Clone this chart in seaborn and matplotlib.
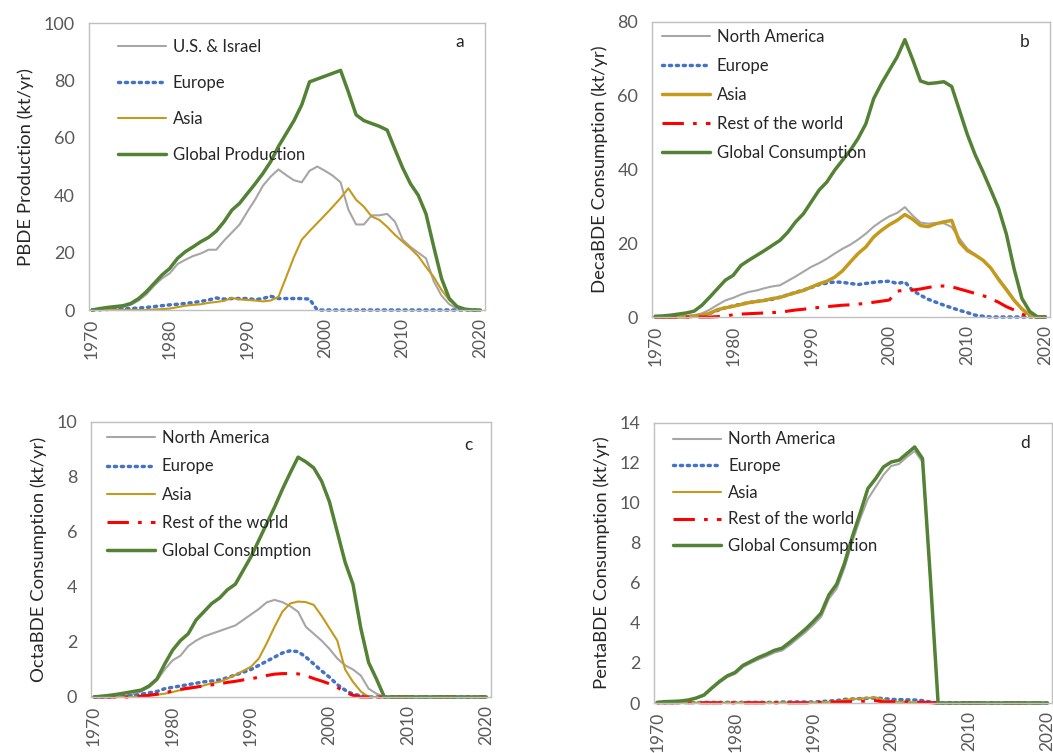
import matplotlib
matplotlib.use("Agg")
import matplotlib.pyplot as plt
import seaborn as sns
import pandas as pd

# ---------------- data ----------------
years = list(range(1970, 2021))
x_ticks = [1970, 1980, 1990, 2000, 2010, 2020]

# Panel a: PBDE production (kt/yr)
a_us = [0.0, 0.3, 0.6, 0.8, 1.0, 1.8, 3.3, 5.5, 8.5, 11.0,
        12.8, 16.0, 17.5, 18.8, 19.7, 21.0, 21.0, 24.2, 27.0, 29.8,
        34.3, 38.5, 43.3, 46.5, 49.0, 47.0, 45.2, 44.5, 48.5, 50.0,
        48.5, 46.8, 44.5, 35.0, 29.8, 29.8, 33.0, 33.0, 33.5, 30.8,
        24.5, 22.0, 20.0, 18.0, 10.0, 5.0, 2.0, 0.5, 0.1, 0.0,
        0.0]
a_eu = [0.0, 0.1, 0.2, 0.3, 0.4, 0.5, 0.7, 0.9, 1.2, 1.5,
        1.8, 2.0, 2.3, 2.6, 3.0, 3.5, 4.2, 3.8, 4.0, 4.0,
        4.0, 3.6, 4.0, 4.8, 4.0, 4.0, 4.0, 4.0, 3.8, 0.0,
        0.0, 0.0, 0.0, 0.0, 0.0, 0.0, 0.0, 0.0, 0.0, 0.0,
        0.0, 0.0, 0.0, 0.0, 0.0, 0.0, 0.0, 0.0, 0.0, 0.0,
        0.0]
a_asia = [0.0, 0.0, 0.0, 0.0, 0.0, 0.0, 0.0, 0.0, 0.2, 0.3,
          0.5, 1.0, 1.5, 1.8, 2.0, 2.5, 2.8, 3.2, 4.2, 3.7,
          3.5, 3.3, 3.0, 3.3, 4.6, 11.5, 18.5, 24.5, 27.5, 30.3,
          33.1, 36.0, 39.0, 42.4, 38.4, 36.0, 32.6, 31.4, 29.0, 26.2,
          23.8, 21.5, 18.8, 15.0, 11.5, 7.0, 3.5, 1.2, 0.2, 0.0,
          0.0]
a_global = [0.0, 0.5, 0.9, 1.2, 1.5, 2.3, 4.0, 6.4, 9.3, 12.2,
            14.5, 18.0, 20.3, 22.0, 23.8, 25.3, 27.5, 30.8, 34.8, 37.2,
            40.6, 44.0, 47.6, 51.7, 57.0, 61.5, 66.0, 71.5, 79.5, 80.5,
            81.5, 82.5, 83.5, 76.0, 68.0, 66.0, 65.0, 64.0, 62.7, 56.0,
            49.5, 44.0, 40.0, 33.5, 22.0, 11.0, 4.0, 1.2, 0.3, 0.0,
            0.0]

# Panel b: DecaBDE consumption (kt/yr)
b_na = [0.0, 0.0, 0.0, 0.1, 0.2, 0.5, 1.0, 2.0, 3.3, 4.5,
        5.2, 6.1, 6.8, 7.2, 7.8, 8.3, 8.6, 9.8, 11.0, 12.3,
        13.6, 14.6, 15.8, 17.2, 18.5, 19.6, 21.0, 22.6, 24.5, 26.0,
        27.3, 28.2, 29.8, 27.5, 25.6, 25.3, 25.5, 25.4, 24.4, 21.3,
        18.5, 17.0, 15.5, 13.3, 10.5, 7.8, 4.8, 2.0, 0.5, 0.0,
        0.0]
b_eu = [0.0, 0.0, 0.0, 0.0, 0.1, 0.2, 0.4, 1.0, 1.8, 2.5,
        3.0, 3.5, 3.9, 4.2, 4.5, 4.8, 5.4, 6.0, 6.7, 7.3,
        8.0, 8.8, 9.2, 9.5, 9.4, 9.1, 8.8, 9.1, 9.4, 9.6,
        9.7, 9.1, 9.5, 7.2, 5.9, 4.8, 4.0, 3.2, 2.5, 1.8,
        1.2, 0.5, 0.2, 0.0, 0.0, 0.0, 0.0, 0.0, 0.0, 0.0,
        0.0]
b_asia = [0.0, 0.0, 0.0, 0.0, 0.1, 0.2, 0.5, 1.0, 2.0, 2.5,
          2.9, 3.4, 3.9, 4.2, 4.5, 5.0, 5.3, 6.0, 6.6, 7.2,
          8.1, 9.0, 9.7, 10.8, 12.5, 14.9, 17.2, 19.0, 21.7, 23.5,
          25.0, 26.2, 27.8, 26.5, 24.8, 24.5, 25.3, 25.8, 26.2, 20.3,
          18.0, 16.8, 15.4, 13.3, 10.2, 7.4, 4.5, 2.2, 0.5, 0.0,
          0.0]
b_row = [0.0, 0.0, 0.0, 0.0, 0.0, 0.0, 0.0, 0.0, 0.1, 0.3,
         0.6, 0.8, 0.9, 1.0, 1.1, 1.2, 1.3, 1.6, 1.9, 2.1,
         2.4, 2.6, 2.8, 3.0, 3.2, 3.3, 3.5, 3.7, 4.0, 4.3,
         4.6, 7.0, 7.3, 7.3, 7.6, 8.0, 8.4, 8.4, 8.2, 7.6,
         7.0, 6.4, 5.8, 5.0, 4.0, 2.8, 1.9, 0.8, 0.0, 0.0,
         0.0]
b_global = [0.2, 0.3, 0.5, 0.8, 1.1, 1.6, 3.2, 5.4, 7.7, 10.0,
            11.3, 14.0, 15.4, 16.7, 18.0, 19.4, 20.8, 23.0, 25.8, 28.0,
            31.2, 34.4, 36.6, 39.8, 42.5, 45.2, 48.4, 52.4, 59.2, 63.3,
            66.9, 70.5, 75.2, 69.8, 64.0, 63.3, 63.5, 63.8, 62.5, 56.0,
            49.5, 44.0, 39.4, 34.5, 29.5, 22.5, 13.0, 5.0, 1.5, 0.0,
            0.0]

# Panel c: OctaBDE consumption (kt/yr)
c_na = [0.0, 0.0, 0.0, 0.02, 0.05, 0.1, 0.2, 0.35, 0.6, 1.0,
        1.33, 1.5, 1.85, 2.05, 2.2, 2.3, 2.4, 2.5, 2.6, 2.8,
        3.0, 3.2, 3.44, 3.53, 3.45, 3.3, 3.1, 2.55, 2.3, 2.05,
        1.75, 1.4, 1.15, 1.0, 0.78, 0.3, 0.12, 0.0, 0.0, 0.0,
        0.0, 0.0, 0.0, 0.0, 0.0, 0.0, 0.0, 0.0, 0.0, 0.0,
        0.0]
c_eu = [0.0, 0.0, 0.0, 0.02, 0.03, 0.05, 0.1, 0.15, 0.2, 0.3,
        0.35, 0.4, 0.45, 0.5, 0.55, 0.58, 0.62, 0.7, 0.8, 0.9,
        1.0, 1.15, 1.3, 1.45, 1.6, 1.68, 1.65, 1.45, 1.2, 0.95,
        0.72, 0.45, 0.25, 0.1, 0.05, 0.0, 0.0, 0.0, 0.0, 0.0,
        0.0, 0.0, 0.0, 0.0, 0.0, 0.0, 0.0, 0.0, 0.0, 0.0,
        0.0]
c_asia = [0.0, 0.0, 0.0, 0.0, 0.0, 0.0, 0.02, 0.05, 0.08, 0.12,
          0.18, 0.25, 0.3, 0.35, 0.42, 0.5, 0.55, 0.67, 0.8, 0.95,
          1.1, 1.4, 1.95, 2.55, 3.1, 3.4, 3.47, 3.45, 3.35, 2.95,
          2.5, 2.05, 1.0, 0.55, 0.2, 0.0, 0.0, 0.0, 0.0, 0.0,
          0.0, 0.0, 0.0, 0.0, 0.0, 0.0, 0.0, 0.0, 0.0, 0.0,
          0.0]
c_row = [0.0, 0.0, 0.0, 0.0, 0.0, 0.0, 0.03, 0.06, 0.1, 0.15,
         0.22, 0.28, 0.32, 0.36, 0.4, 0.44, 0.48, 0.53, 0.57, 0.62,
         0.66, 0.72, 0.78, 0.83, 0.85, 0.85, 0.84, 0.78, 0.67, 0.58,
         0.48, 0.35, 0.18, 0.06, 0.0, 0.0, 0.0, 0.0, 0.0, 0.0,
         0.0, 0.0, 0.0, 0.0, 0.0, 0.0, 0.0, 0.0, 0.0, 0.0,
         0.0]
c_global = [0.0, 0.03, 0.06, 0.1, 0.15, 0.2, 0.25, 0.4, 0.65, 1.2,
            1.7, 2.05, 2.3, 2.8, 3.1, 3.4, 3.6, 3.9, 4.1, 4.6,
            5.1, 5.7, 6.3, 6.9, 7.55, 8.15, 8.72, 8.55, 8.33, 7.85,
            7.1, 6.0, 4.9, 4.1, 2.5, 1.25, 0.65, 0.0, 0.0, 0.0,
            0.0, 0.0, 0.0, 0.0, 0.0, 0.0, 0.0, 0.0, 0.0, 0.0,
            0.0]

# Panel d: PentaBDE consumption (kt/yr)
d_na = [0.02, 0.05, 0.06, 0.08, 0.12, 0.22, 0.36, 0.7, 1.02, 1.3,
        1.46, 1.8, 2.0, 2.18, 2.34, 2.52, 2.62, 2.9, 3.22, 3.54,
        3.9, 4.3, 5.2, 5.72, 6.75, 8.05, 9.2, 10.2, 10.8, 11.4,
        11.85, 11.95, 12.3, 12.6, 12.05, 6.2, 0.0, 0.0, 0.0, 0.0,
        0.0, 0.0, 0.0, 0.0, 0.0, 0.0, 0.0, 0.0, 0.0, 0.0,
        0.0]
d_eu = [0.02, 0.02, 0.02, 0.02, 0.02, 0.02, 0.03, 0.03, 0.03, 0.03,
        0.03, 0.03, 0.03, 0.03, 0.03, 0.03, 0.05, 0.05, 0.05, 0.05,
        0.05, 0.07, 0.1, 0.12, 0.18, 0.2, 0.22, 0.24, 0.25, 0.22,
        0.18, 0.17, 0.16, 0.15, 0.12, 0.05, 0.0, 0.0, 0.0, 0.0,
        0.0, 0.0, 0.0, 0.0, 0.0, 0.0, 0.0, 0.0, 0.0, 0.0,
        0.0]
d_asia = [0.02, 0.02, 0.02, 0.02, 0.02, 0.02, 0.02, 0.02, 0.02, 0.02,
          0.02, 0.02, 0.02, 0.02, 0.02, 0.02, 0.02, 0.02, 0.02, 0.02,
          0.03, 0.04, 0.06, 0.08, 0.15, 0.2, 0.22, 0.25, 0.28, 0.15,
          0.08, 0.06, 0.05, 0.04, 0.02, 0.0, 0.0, 0.0, 0.0, 0.0,
          0.0, 0.0, 0.0, 0.0, 0.0, 0.0, 0.0, 0.0, 0.0, 0.0,
          0.0]
d_row = [0.01, 0.01, 0.01, 0.01, 0.01, 0.01, 0.01, 0.01, 0.01, 0.01,
         0.01, 0.01, 0.01, 0.01, 0.01, 0.01, 0.01, 0.01, 0.01, 0.01,
         0.01, 0.03, 0.05, 0.05, 0.06, 0.07, 0.08, 0.1, 0.12, 0.05,
         0.06, 0.06, 0.05, 0.04, 0.03, 0.02, 0.0, 0.0, 0.0, 0.0,
         0.0, 0.0, 0.0, 0.0, 0.0, 0.0, 0.0, 0.0, 0.0, 0.0,
         0.0]
d_global = [0.03, 0.07, 0.08, 0.1, 0.15, 0.25, 0.4, 0.75, 1.08, 1.36,
            1.53, 1.88, 2.08, 2.28, 2.44, 2.63, 2.74, 3.04, 3.36, 3.69,
            4.07, 4.49, 5.4, 5.94, 6.98, 8.3, 9.48, 10.72, 11.22, 11.8,
            12.05, 12.14, 12.47, 12.8, 12.22, 6.3, 0.0, 0.0, 0.0, 0.0,
            0.0, 0.0, 0.0, 0.0, 0.0, 0.0, 0.0, 0.0, 0.0, 0.0,
            0.0]

# ---------------- styles ----------------
GRAY = "#a6a6a6"
BLUE = "#4472c4"
GOLD = "#c59a1c"
RED = "#ff0000"
GREEN = "#548235"
TICK_COL = "#595959"
TEXT_COL = "#262626"
SPINE_COL = "#bfbfbf"

style = {
    "gray": dict(color=GRAY, lw=1.5, ls="-"),
    "blue": dict(color=BLUE, lw=2.5, ls=(0, (0.6, 1.4))),
    "gold": dict(color=GOLD, lw=1.5, ls="-"),
    "gold_thick": dict(color=GOLD, lw=2.5, ls="-"),
    "red": dict(color=RED, lw=2.2, ls=(0, (7, 3, 1.2, 3))),
    "green": dict(color=GREEN, lw=2.5, ls="-"),
}

panels = [
    dict(letter="a", ylabel="PBDE Production (kt/yr)", ymax=100, ystep=20,
         pos=[0.0845, 0.5883, 0.3761, 0.3811], leg=(0.073, 0.944), lspace=1.19,
         series=[("U.S. & Israel", a_us, "gray"), ("Europe", a_eu, "blue"),
                 ("Asia", a_asia, "gold"), ("Global Production", a_global, "green")],
         txt=(0.937, 0.934)),
    dict(letter="b", ylabel="DecaBDE Consumption (kt/yr)", ymax=80, ystep=20,
         pos=[0.6192, 0.5790, 0.3780, 0.3918], leg=(0.025, 0.976), lspace=0.78,
         series=[("North America", b_na, "gray"), ("Europe", b_eu, "blue"),
                 ("Asia", b_asia, "gold_thick"), ("Rest of the world", b_row, "red"),
                 ("Global Consumption", b_global, "green")],
         txt=(0.937, 0.932)),
    dict(letter="c", ylabel="OctaBDE Consumption (kt/yr)", ymax=10, ystep=2,
         pos=[0.0864, 0.0744, 0.3799, 0.3652], leg=(0.04, 0.97), lspace=0.73,
         series=[("North America", c_na, "gray"), ("Europe", c_eu, "blue"),
                 ("Asia", c_asia, "gold"), ("Rest of the world", c_row, "red"),
                 ("Global Consumption", c_global, "green")],
         txt=(0.943, 0.916)),
    dict(letter="d", ylabel="PentaBDE Consumption (kt/yr)", ymax=14, ystep=2,
         pos=[0.6211, 0.0664, 0.3780, 0.3719], leg=(0.048, 0.97), lspace=0.64,
         series=[("North America", d_na, "gray"), ("Europe", d_eu, "blue"),
                 ("Asia", d_asia, "gold"), ("Rest of the world", d_row, "red"),
                 ("Global Consumption", d_global, "green")],
         txt=(0.932, 0.930)),
]

sns.set_theme(style="white")
plt.rcParams["font.family"] = ["Lato", "DejaVu Sans"]

fig = plt.figure(figsize=(10.53, 7.53), dpi=100)

for p in panels:
    ax = fig.add_axes(p["pos"])
    for name, vals, sty in p["series"]:
        df = pd.DataFrame({"year": years, "value": vals})
        s = style[sty]
        sns.lineplot(data=df, x="year", y="value", ax=ax, color=s["color"],
                     linewidth=s["lw"], label=name, clip_on=False)
        ln = ax.lines[-1]
        ln.set_linestyle(s["ls"])
        ln.set_dash_capstyle("round" if sty == "blue" else "butt")
        ln.set_solid_joinstyle("round")
    ax.set_xlim(1969.6, 2020.6)
    ax.set_ylim(0, p["ymax"])
    ax.set_yticks(list(range(0, p["ymax"] + 1, p["ystep"])))
    ax.set_xticks(x_ticks)
    ax.set_xticklabels([str(t) for t in x_ticks], rotation=90)
    ax.set_xlabel("")
    ax.set_ylabel(p["ylabel"], fontsize=13.3, color=TEXT_COL, labelpad=7)
    ax.tick_params(axis="y", labelsize=13, colors=TICK_COL, length=3,
                   direction="out", pad=7, color=SPINE_COL)
    ax.tick_params(axis="x", labelsize=12.5, colors=TICK_COL, length=3,
                   direction="in", pad=6, color=SPINE_COL)
    for sp in ax.spines.values():
        sp.set_color(SPINE_COL)
        sp.set_linewidth(1.0)
    ax.text(p["txt"][0], p["txt"][1], p["letter"], transform=ax.transAxes,
            fontsize=12.5, color=TEXT_COL, ha="center", va="center")
    handles, labels = ax.get_legend_handles_labels()
    leg = ax.legend(handles, labels, loc="upper left", bbox_to_anchor=p["leg"],
                    frameon=False, fontsize=12, handlelength=2.9,
                    handletextpad=0.4, labelspacing=p["lspace"],
                    borderaxespad=0, borderpad=0)
    for t in leg.get_texts():
        t.set_color(TEXT_COL)

fig.savefig("out.png", dpi=100)
